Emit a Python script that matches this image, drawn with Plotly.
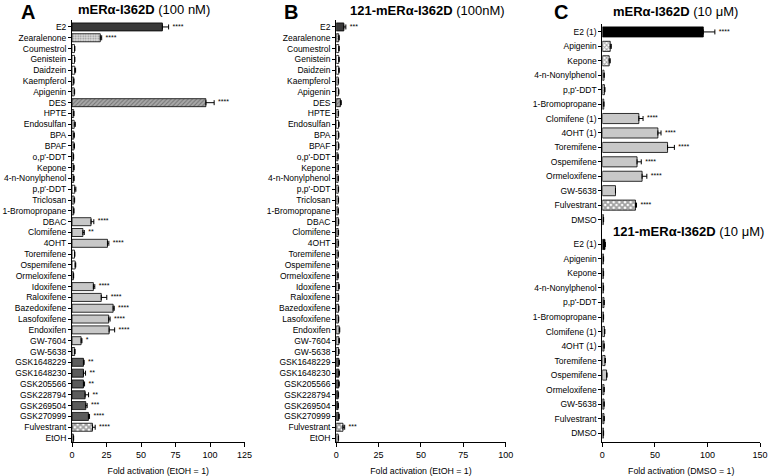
import plotly.graph_objects as go

W, H = 774, 476

# ---------------- data ----------------
a_labels = ["E2", "Zearalenone", "Coumestrol", "Genistein", "Daidzein", "Kaempferol", "Apigenin",
            "DES", "HPTE", "Endosulfan", "BPA", "BPAF", "o,p'-DDT", "Kepone", "4-n-Nonylphenol",
            "p,p'-DDT", "Triclosan", "1-Bromopropane", "DBAC", "Clomifene", "4OHT", "Toremifene",
            "Ospemifene", "Ormeloxifene", "Idoxifene", "Raloxifene", "Bazedoxifene", "Lasofoxifene",
            "Endoxifen", "GW-7604", "GW-5638", "GSK1648229", "GSK1648230", "GSK205566", "GSK228794",
            "GSK269504", "GSK270999", "Fulvestrant", "EtOH"]
a_values = [65.5, 20.5, 1.8, 1.8, 2.0, 1.2, 1.6, 97.0, 1.2, 1.6, 1.3, 1.4, 1.0, 1.2, 1.2,
            2.0, 1.5, 1.2, 13.8, 7.9, 25.7, 1.8, 2.3, 1.0, 15.5, 21.2, 29.8, 26.6, 26.9, 6.6,
            1.9, 8.3, 8.3, 8.3, 9.5, 10.0, 11.9, 14.8, 1.0]
a_err = [4.5, 1.0, 0.3, 0.3, 0.6, 0.2, 0.3, 6.0, 0.2, 0.8, 0.4, 0.4, 0.2, 0.3, 0.3,
         0.8, 0.4, 0.2, 2.0, 1.0, 1.0, 0.3, 0.4, 0.2, 1.0, 4.0, 0.8, 1.0, 4.0, 0.6,
         0.3, 0.5, 1.5, 0.8, 2.5, 1.0, 0.8, 2.0, 0.2]
a_sig = ["****", "****", "", "", "", "", "", "****", "", "", "", "", "", "", "",
         "", "", "", "****", "**", "****", "", "", "", "****", "****", "****", "****",
         "****", "*", "", "**", "**", "**", "**", "***", "****", "****", ""]

b_values = [4.5, 1.5, 1.5, 1.5, 1.5, 1.2, 1.3, 2.5, 1.2, 1.4, 1.3, 1.3, 1.0, 1.1, 1.1,
            1.2, 1.2, 1.1, 1.3, 1.2, 1.2, 1.1, 1.1, 1.0, 1.5, 1.3, 1.4, 1.3, 1.8, 1.6,
            1.4, 1.6, 1.6, 1.5, 1.2, 1.1, 1.5, 4.0, 1.2]
b_err = [1.2, 0.3, 0.3, 0.3, 0.3, 0.2, 0.3, 0.5, 0.2, 0.3, 0.3, 0.3, 0.2, 0.2, 0.2,
         0.2, 0.2, 0.2, 0.2, 0.2, 0.2, 0.2, 0.2, 0.2, 0.3, 0.2, 0.2, 0.2, 0.3, 0.3,
         0.3, 0.3, 0.3, 0.3, 0.2, 0.2, 0.3, 1.0, 0.2]
b_sig = ["***"] + [""] * 36 + ["***", ""]

c_labels = ["E2 (1)", "Apigenin", "Kepone", "4-n-Nonylphenol", "p,p'-DDT", "1-Bromopropane",
            "Clomifene (1)", "4OHT (1)", "Toremifene", "Ospemifene", "Ormeloxifene", "GW-5638",
            "Fulvestrant", "DMSO"]
c_top_values = [96.0, 7.5, 6.5, 1.5, 2.0, 1.3, 34.7, 52.8, 62.0, 33.0, 37.8, 12.5, 31.5, 1.0]
c_top_err = [11.0, 1.0, 1.0, 0.3, 0.5, 0.2, 4.0, 3.0, 6.5, 4.0, 4.5, 0.0, 1.0, 0.2]
c_top_sig = ["****", "", "", "", "", "", "****", "****", "****", "****", "****", "", "****", ""]

c_bot_values = [2.5, 1.0, 1.0, 1.0, 1.5, 1.0, 2.0, 1.5, 2.5, 4.0, 1.5, 1.5, 1.5, 1.0]
c_bot_err = [0.3, 0.2, 0.2, 0.2, 0.3, 0.2, 0.4, 0.3, 0.4, 0.5, 0.3, 0.3, 0.3, 0.2]

# ---------------- styles ----------------
DARK, LIGHT, GSK = "#3a3a3a", "#c8c8c8", "#5c5c5c"
a_fill = ["dark", "dots", "w", "w", "w", "w", "w", "hatch", "w", "w", "w", "w", "w", "w", "w",
          "w", "w", "w", "l", "l", "l", "w", "w", "w", "l", "l", "l", "l", "l", "l", "l",
          "g", "g", "g", "g", "g", "g", "check", "w"]
c_fill = ["black", "lcheck", "lcheck", "w", "dots", "w", "l", "l", "l", "l", "l", "l", "check", "w"]

# colour, pattern shape, fg, bg, size, solidity
STY = {
    "dark": (DARK, "", DARK, DARK, 4, 0.3),
    "black": ("#000000", "", "#000000", "#000000", 4, 0.3),
    "w": ("#ffffff", "", "#ffffff", "#ffffff", 4, 0.3),
    "l": (LIGHT, "", LIGHT, LIGHT, 4, 0.3),
    "g": (GSK, "", GSK, GSK, 4, 0.3),
    "dots": ("#dddddd", ".", "#999999", "#e4e4e4", 2.5, 0.35),
    "hatch": ("#a8a8a8", "/", "#4a4a4a", "#b4b4b4", 3, 0.35),
    "check": ("#ffffff", "x", "#000000", "#ffffff", 4, 0.7),
    "lcheck": ("#ffffff", "x", "#555555", "#ffffff", 3, 0.5),
}

FONT = "Liberation Sans, Arial, sans-serif"


def px_x(p):
    return p / W


def px_y(p):
    return 1 - p / H


fig = go.Figure()


def add_panel(labels, values, err, sig, fills, xa, ya, bw):
    st = [STY[f] for f in fills]
    fig.add_trace(go.Bar(
        x=values, y=labels, orientation="h", width=bw,
        marker=dict(color=[s[0] for s in st], line=dict(color="#000000", width=0.8),
                    pattern=dict(shape=[s[1] for s in st], fgcolor=[s[2] for s in st],
                                 bgcolor=[s[3] for s in st], size=[s[4] for s in st],
                                 solidity=[s[5] for s in st])),
        error_x=dict(type="data", array=err, arrayminus=[0] * len(err), symmetric=False,
                     color="#000000", thickness=1, width=2.5),
        xaxis=xa, yaxis=ya, showlegend=False, hoverinfo="skip"))
    if sig is not None:
        sx, sy, stx = [], [], []
        for lab, v, e, s in zip(labels, values, err, sig):
            if s:
                sx.append(v + e)
                sy.append(lab)
                stx.append("  " + s)
        fig.add_trace(go.Scatter(
            x=sx, y=sy, text=stx, mode="text", textposition="middle right",
            textfont=dict(size=7, color="#000000", family=FONT),
            xaxis=xa, yaxis=ya, showlegend=False, hoverinfo="skip"))


add_panel(a_labels, a_values, a_err, a_sig, a_fill, "x", "y", 0.74)
add_panel(a_labels, b_values, b_err, b_sig, a_fill, "x2", "y2", 0.74)
add_panel(c_labels, c_top_values, c_top_err, c_top_sig, c_fill, "x3", "y3", 0.7)
add_panel(c_labels, c_bot_values, c_bot_err, None, c_fill, "x4", "y4", 0.7)

xbase = dict(showline=True, linecolor="#000000", linewidth=1, ticks="outside", ticklen=4,
             tickwidth=1, tickcolor="#000000", showgrid=False, zeroline=False,
             tickfont=dict(size=9, family=FONT, color="#000000"),
             title_font=dict(size=8.8, family=FONT, color="#000000"), title_standoff=8)
ybase = dict(type="category", showline=True, linecolor="#000000", linewidth=1, ticks="outside",
             ticklen=3, tickwidth=1, tickcolor="#000000", showgrid=False, zeroline=False,
             tickfont=dict(size=8.5, family=FONT, color="#000000"))

ab_dom_y = [px_y(443), px_y(20)]
fig.update_layout(
    width=W, height=H, margin=dict(l=0, r=0, t=0, b=0),
    paper_bgcolor="#ffffff", plot_bgcolor="#ffffff",
    font=dict(family=FONT, color="#000000"),
    xaxis=dict(xbase, domain=[px_x(70), px_x(245)], range=[0, 125], dtick=25, anchor="y",
               title_text="Fold activation (EtOH = 1)"),
    yaxis=dict(ybase, domain=ab_dom_y, range=[38.37, -0.646], anchor="x"),
    xaxis2=dict(xbase, domain=[px_x(338), px_x(510)], range=[0, 100], dtick=25, anchor="y2",
                title_text="Fold activation (EtOH = 1)"),
    yaxis2=dict(ybase, domain=ab_dom_y, range=[38.37, -0.646], anchor="x2"),
    xaxis3=dict(domain=[px_x(608), px_x(768)], range=[0, 150], anchor="y3", visible=False),
    yaxis3=dict(ybase, domain=[px_y(229), px_y(24)], range=[13.62, -0.553], anchor="x3"),
    xaxis4=dict(xbase, domain=[px_x(608), px_x(768)], range=[0, 150], dtick=50, anchor="y4",
                title_text="Fold activation (DMSO = 1)"),
    yaxis4=dict(ybase, domain=[px_y(443), px_y(229)], range=[13.62, -1.10], anchor="x4"),
)

ann = [
    ("<b>A</b>", 25, 12, 20), ("<b>B</b>", 292, 12, 20), ("<b>C</b>", 566, 12, 20),
    ("<b>mERα-I362D</b> (100 nM)", 143, 10, 13),
    ("<b>121-mERα-I362D</b> (100nM)", 431, 11, 13),
    ("<b>mERα-I362D</b> (10 μM)", 682, 12, 13),
    ("<b>121-mERα-I362D</b> (10 μM)", 695, 232, 13),
]
for t, x, y, s in ann:
    fig.add_annotation(text=t, x=px_x(x), y=px_y(y), xref="paper", yref="paper",
                       xanchor="center", yanchor="middle", showarrow=False,
                       font=dict(size=s, family=FONT, color="#000000"))

fig.write_html("out.html", config={"displayModeBar": False},
               post_script="document.body.style.margin='0px';")
